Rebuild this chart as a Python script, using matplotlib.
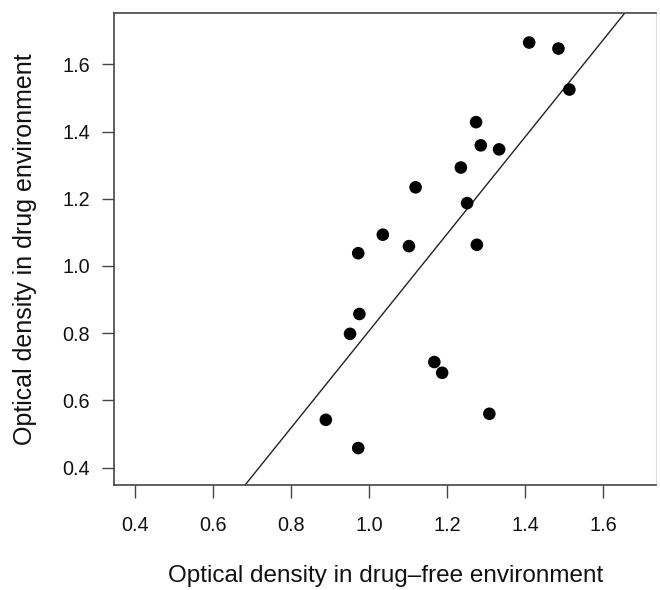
import matplotlib
matplotlib.use("Agg")
import matplotlib.pyplot as plt
import numpy as np

# Data
od_drug_free = [1.410, 1.485, 1.513, 1.274, 1.286, 1.333, 1.235, 1.119, 1.251, 1.035,
                1.102, 0.972, 1.276, 0.975, 0.951, 1.167, 1.187, 1.308, 0.972, 0.889]
od_drug = [1.665, 1.647, 1.525, 1.428, 1.359, 1.347, 1.293, 1.234, 1.187, 1.093,
           1.059, 1.038, 1.063, 0.857, 0.798, 0.714, 0.682, 0.560, 0.458, 0.542]
line_intercept = -0.637
line_slope = 1.444
tick_values = [0.4, 0.6, 0.8, 1.0, 1.2, 1.4, 1.6]
tick_labels = ["0.4", "0.6", "0.8", "1.0", "1.2", "1.4", "1.6"]
x_label = "Optical density in drug\u2013free environment"
y_label = "Optical density in drug environment"

plt.rcParams['font.family'] = ['Liberation Sans', 'DejaVu Sans']

fig = plt.figure(figsize=(6.6, 5.9), dpi=100)
ax = fig.add_axes([114.3 / 660, 105 / 590, (656 - 114.3) / 660, (485 - 13.3) / 590])

ax.scatter(od_drug_free, od_drug, s=82, color='black', edgecolors='none', zorder=3)

xlim = (0.347, 1.735)
ylim = (0.348, 1.752)
xs = np.array(xlim)
ax.plot(xs, line_intercept + line_slope * xs, color='#222222', lw=1.0, zorder=2)

ax.set_xlim(*xlim)
ax.set_ylim(*ylim)
ax.set_xticks(tick_values)
ax.set_xticklabels(tick_labels)
ax.set_yticks(tick_values)
ax.set_yticklabels(tick_labels)

for side in ['left', 'bottom', 'top']:
    ax.spines[side].set_color('#444444')
    ax.spines[side].set_linewidth(1.2)
ax.spines['right'].set_color('#dddddd')
ax.spines['right'].set_linewidth(0.8)

ax.tick_params(axis='both', direction='out', length=9, width=1.0, color='#444444',
               labelsize=14.3, labelcolor='#111111')
ax.tick_params(axis='x', pad=13)
ax.tick_params(axis='y', pad=8.5)

ax.set_xlabel(x_label, fontsize=17.5, color='#111111', labelpad=22)
ax.set_ylabel(y_label, fontsize=18, color='#111111', labelpad=18)

fig.savefig("out.png", dpi=100)
